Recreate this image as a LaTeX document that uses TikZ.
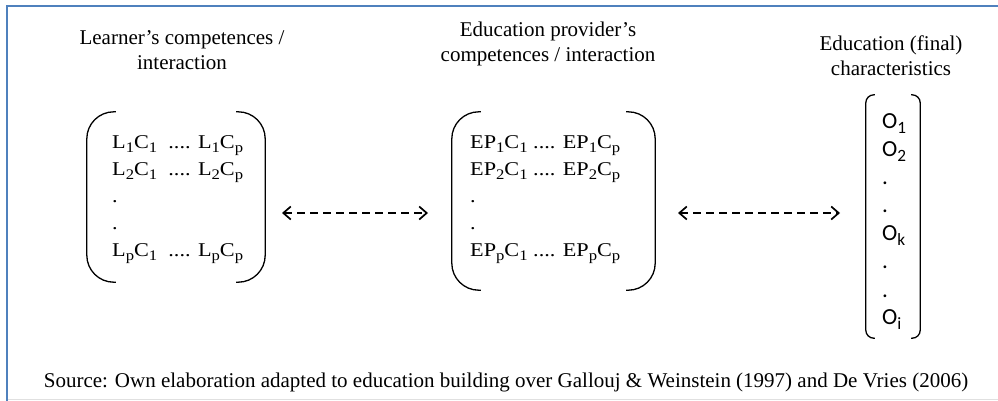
\documentclass[tikz,border=0pt]{standalone}
\usepackage{fontspec}
\setmainfont{Liberation Serif}
\newfontfamily\calib{Carlito}
\newfontfamily\matfont[FakeStretch=1.14]{Liberation Serif}
\usetikzlibrary{arrows.meta}
\newcommand\sbs[1]{\raisebox{-0.45ex}{\scalebox{0.75}{#1}}}
\definecolor{frameblue}{HTML}{4F81BD}
\begin{document}
\begin{tikzpicture}[x=1pt,y=-1pt,
  title/.style={font=\fontsize{21}{25}\selectfont, align=center, inner sep=0},
  mat/.style={font=\matfont\fontsize{19.5}{27}\selectfont, align=left, anchor=west, inner sep=0},
  brk/.style={line width=1.3pt},
  holder/.style={draw=none, inner sep=0},
  dasharrow/.style={line width=1.7pt, dash pattern=on 7.5pt off 5.5pt, {Straight Barb[length=7.5pt,width=13pt]}-{Straight Barb[length=7.5pt,width=13pt]}}
]
\useasboundingbox (0,0) rectangle (998,400);
% frame
\draw[frameblue, line width=2pt] (7,401) -- (7,6) -- (999,6);
\draw[black!12, line width=0.8pt] (8,399.5) -- (998,399.5);

% titles
\node[title] (t1) at (182,50) {Learner’s competences /\\interaction};
\node[title] (t2) at (548,44) {Education provider’s\\competences / interaction};
\node[title] (t3) at (891,56) {Education (final)\\characteristics};

% bracket holders
\node[holder, minimum width=178pt, minimum height=170pt] (LB) at (176,197) {};
\node[holder, minimum width=203pt, minimum height=178pt] (MB) at (553.5,201) {};
\node[holder, minimum width=54pt, minimum height=243pt] (RB) at (893,216.5) {};

% left matrix
\draw[brk, rounded corners=27pt] ([xshift=29pt]LB.north west) -- (LB.north west) -- (LB.south west) -- ([xshift=29pt]LB.south west);
\draw[brk, rounded corners=27pt] ([xshift=-29pt]LB.north east) -- (LB.north east) -- (LB.south east) -- ([xshift=-29pt]LB.south east);
\node[mat] (LM) at (112,200) {L\sbs{1}C\sbs{1}\ \ .... L\sbs{1}C\sbs{p}\\L\sbs{2}C\sbs{1}\ \ .... L\sbs{2}C\sbs{p}\\.\\.\\L\sbs{p}C\sbs{1}\ \ .... L\sbs{p}C\sbs{p}};

% middle matrix
\draw[brk, rounded corners=27pt] ([xshift=29pt]MB.north west) -- (MB.north west) -- (MB.south west) -- ([xshift=29pt]MB.south west);
\draw[brk, rounded corners=27pt] ([xshift=-29pt]MB.north east) -- (MB.north east) -- (MB.south east) -- ([xshift=-29pt]MB.south east);
\node[mat] (MM) at (470,200) {EP\sbs{1}C\sbs{1} .... EP\sbs{1}C\sbs{p}\\EP\sbs{2}C\sbs{1} .... EP\sbs{2}C\sbs{p}\\.\\.\\EP\sbs{p}C\sbs{1} .... EP\sbs{p}C\sbs{p}};

% right column
\draw[brk, rounded corners=8pt] ([xshift=9pt]RB.north west) -- (RB.north west) -- (RB.south west) -- ([xshift=9pt]RB.south west);
\draw[brk, rounded corners=8pt] ([xshift=-9pt]RB.north east) -- (RB.north east) -- (RB.south east) -- ([xshift=-9pt]RB.south east);
\node[mat, font=\calib\fontsize{23}{28}\selectfont] (RM) at (882,222) {O\sbs{1}\\O\sbs{2}\\.\\.\\O\sbs{k}\\.\\.\\O\sbs{i}};

% arrows
\coordinate (a1l) at (282,213);
\coordinate (a1r) at (428,213);
\coordinate (a2l) at (678,213);
\coordinate (a2r) at (840,213);
\draw[dasharrow] (a1l) -- (a1r);
\draw[dasharrow] (a2l) -- (a2r);

% source
\node[font=\fontsize{21}{24}\selectfont, inner sep=0] (src) at (506,382) {Source: Own elaboration adapted to education building over Gallouj \& Weinstein (1997) and De Vries (2006)};
\end{tikzpicture}
\end{document}
